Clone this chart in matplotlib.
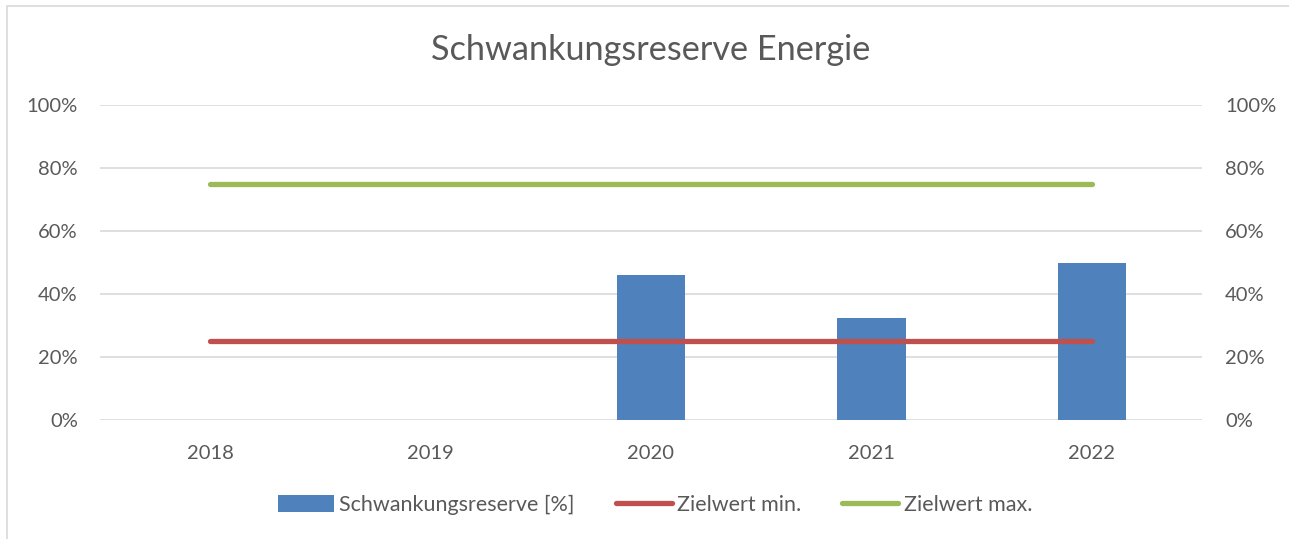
import matplotlib

matplotlib.use("Agg")
import matplotlib.pyplot as plt
import numpy as np
from matplotlib.patches import Rectangle
from matplotlib.ticker import FuncFormatter, MultipleLocator

years = ["2018", "2019", "2020", "2021", "2022"]
reserve_pct = [np.nan, np.nan, 46.0, 32.5, 50.0]
target_min = [25, 25, 25, 25, 25]
target_max = [75, 75, 75, 75, 75]

BLUE = "#4f81bd"
RED = "#c0504d"
GREEN = "#9bbb59"
TEXT = "#595959"
GRID = "#d9d9d9"

plt.rcParams["font.family"] = ["Lato", "DejaVu Sans"]

W, H = 1289, 539
fig = plt.figure(figsize=(W / 100, H / 100), dpi=100)
ax = fig.add_axes([100 / W, 1 - 420 / H, 1102 / W, 315 / H])

x = np.arange(len(years))
bars = ax.bar(x, reserve_pct, width=0.31, color=BLUE, label="Schwankungsreserve [%]", zorder=2)
ax.plot(x, target_min, color=RED, lw=3.8, solid_capstyle="round", label="Zielwert min.", zorder=3)
ax.plot(x, target_max, color=GREEN, lw=3.8, solid_capstyle="round", label="Zielwert max.", zorder=3)

ax.set_xlim(-0.5, len(years) - 0.5)
ax.set_ylim(0, 100)
ax.yaxis.set_major_locator(MultipleLocator(20))
pct = FuncFormatter(lambda v, _: f"{v:.0f}%")
ax.yaxis.set_major_formatter(pct)
ax.set_xticks(x, years)
ax.grid(axis="y", color=GRID, lw=1.2, zorder=0)
for s in ax.spines.values():
    s.set_visible(False)
ax.tick_params(length=0, labelsize=14.5, labelcolor=TEXT)
ax.tick_params(axis="y", pad=16)
ax.tick_params(axis="x", pad=18)

ax2 = ax.twinx()
ax2.set_ylim(0, 100)
ax2.yaxis.set_major_locator(MultipleLocator(20))
ax2.yaxis.set_major_formatter(pct)
for s in ax2.spines.values():
    s.set_visible(False)
ax2.tick_params(length=0, labelsize=14.5, labelcolor=TEXT, pad=16.5)

fig.text(651 / W, 1 - 50 / H, "Schwankungsreserve Energie", ha="center", va="center",
         fontsize=24.7, color=TEXT)

handles, labels = ax.get_legend_handles_labels()
order = [labels.index("Schwankungsreserve [%]"), labels.index("Zielwert min."),
         labels.index("Zielwert max.")]
fig.legend([handles[i] for i in order], [labels[i] for i in order], loc="center",
           bbox_to_anchor=(655 / W, 1 - 505 / H), ncol=3, frameon=False, fontsize=15.5,
           labelcolor=TEXT, handlelength=2.6, handleheight=0.8, handletextpad=0.25,
           columnspacing=1.9)

fig.patches.append(Rectangle((7 / W, -0.1), 2, 1 - 6 / H + 0.1, transform=fig.transFigure,
                             fill=False, edgecolor=GRID, lw=1.2))

fig.savefig("out.png", dpi=100)
